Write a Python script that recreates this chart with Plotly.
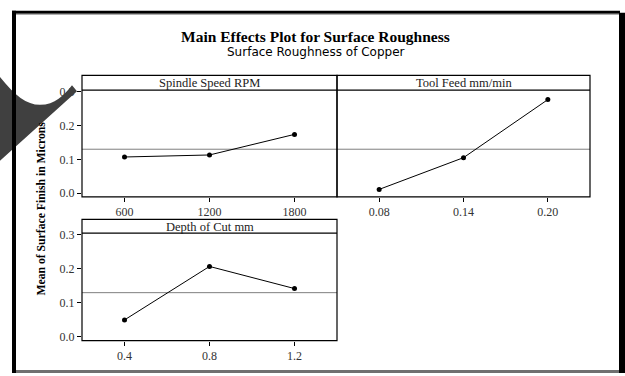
import plotly.graph_objects as go

W, H = 625, 376

# ---------------- data ----------------
speed_levels = ["600", "1200", "1800"]
speed_means = [0.107, 0.113, 0.174]

feed_levels = ["0.08", "0.14", "0.20"]
feed_means = [0.011, 0.105, 0.277]

depth_levels = ["0.4", "0.8", "1.2"]
depth_means = [0.050, 0.207, 0.142]

grand_mean = 0.130

panel_titles = ["Spindle Speed RPM", "Tool Feed mm/min", "Depth of Cut mm"]
y_tick_vals = [0.0, 0.1, 0.2, 0.3]
y_tick_text = ["0.0", "0.1", "0.2", "0.3"]

title_text = "Main Effects Plot for Surface Roughness"
subtitle_text = "Surface Roughness of Copper"
y_title_text = "Mean of Surface Finish in Microns"


# ---------------- helpers (pixel -> paper) ----------------
def px(x):
    return x / W


def py(y):
    return 1 - y / H


SERIF = "Liberation Serif, Times New Roman, serif"
SANS = "DejaVu Sans, Verdana, sans-serif"

fig = go.Figure()

for i, (lv, mv) in enumerate([(speed_levels, speed_means),
                              (feed_levels, feed_means),
                              (depth_levels, depth_means)]):
    sfx = "" if i == 0 else str(i + 1)
    fig.add_trace(go.Scatter(
        x=lv, y=mv, mode="lines+markers",
        xaxis="x" + sfx, yaxis="y" + sfx,
        line=dict(color="black", width=1),
        marker=dict(color="black", size=5),
        showlegend=False, hoverinfo="x+y"))

# panel geometry in pixels
top_data = (87, 196)
bot_data = (233, 343)
left_x = (82, 337)
right_x = (337, 590)
yr = [-0.011, 0.305]

tickfont = dict(family=SERIF, size=12, color="#333333")
common_x = dict(type="category", range=[-0.5, 2.5], ticks="outside", ticklen=4,
                tickcolor="black", showgrid=False, zeroline=False, showline=False,
                tickfont=tickfont, fixedrange=True)
common_y = dict(range=yr, showgrid=False, zeroline=False, showline=False,
                tickvals=y_tick_vals, ticktext=y_tick_text, fixedrange=True)

fig.update_layout(
    width=W, height=H,
    margin=dict(l=0, r=0, t=0, b=0),
    paper_bgcolor="white", plot_bgcolor="white",
    xaxis=dict(domain=[px(left_x[0]), px(left_x[1])], anchor="y", **common_x),
    yaxis=dict(domain=[py(top_data[1]), py(top_data[0])], anchor="x",
               ticks="outside", ticklen=4, tickcolor="black", tickfont=tickfont, **common_y),
    xaxis2=dict(domain=[px(right_x[0]), px(right_x[1])], anchor="y2", **common_x),
    yaxis2=dict(domain=[py(top_data[1]), py(top_data[0])], anchor="x2",
                ticks="", showticklabels=False, **common_y),
    xaxis3=dict(domain=[px(left_x[0]), px(left_x[1])], anchor="y3", **common_x),
    yaxis3=dict(domain=[py(bot_data[1]), py(bot_data[0])], anchor="x3",
                ticks="outside", ticklen=4, tickcolor="black", tickfont=tickfont, **common_y),
)

shapes = []
# grand mean reference lines
for sfx in ["", "2", "3"]:
    shapes.append(dict(type="line", xref="x" + sfx + " domain", yref="y" + sfx,
                       x0=0, x1=1, y0=grand_mean, y1=grand_mean,
                       line=dict(color="#7f7f7f", width=1), layer="below"))

# panel frames and strip headers
panels = [(left_x, 72, 87, 196), (right_x, 72, 87, 196), (left_x, 219, 233, 343)]
for (xs, ytop, yhead, ybot), title in zip(panels, panel_titles):
    shapes.append(dict(type="rect", xref="paper", yref="paper",
                       x0=px(xs[0]), x1=px(xs[1]), y0=py(ybot), y1=py(ytop),
                       line=dict(color="black", width=1.2), fillcolor="rgba(0,0,0,0)"))
    shapes.append(dict(type="line", xref="paper", yref="paper",
                       x0=px(xs[0]), x1=px(xs[1]), y0=py(yhead), y1=py(yhead),
                       line=dict(color="black", width=1.2)))
    fig.add_annotation(x=px((xs[0] + xs[1]) / 2), y=py((ytop + yhead) / 2 + 0.5),
                       xref="paper", yref="paper", text=title, showarrow=False,
                       font=dict(family=SERIF, size=12.5, color="#222222"),
                       xanchor="center", yanchor="middle")

# decorative dark swoosh in the reference image
pts = "M {a},{b} C {c},{d} {e},{f} {g},{h} C {i},{j} {k},{l} {m},{n} L {o},{p} L {q},{r} Z"
sw = pts.format(
    a=px(-2), b=py(71), c=px(14), d=py(92), e=px(26), f=py(102), g=px(40), h=py(102),
    i=px(55), j=py(102), k=px(64), l=py(92), m=px(72), n=py(82),
    o=px(77), p=py(88), q=px(-2), r=py(161))
shapes.append(dict(type="path", xref="paper", yref="paper", path=sw,
                   fillcolor="#404040", line=dict(width=0), layer="above"))

# outer frame of the picture
shapes.append(dict(type="rect", xref="paper", yref="paper",
                   x0=px(12), x1=px(620), y0=py(9), y1=py(6),
                   fillcolor="black", line=dict(width=0), layer="above"))
shapes.append(dict(type="line", xref="paper", yref="paper",
                   x0=px(16), x1=px(619), y0=py(9.5), y1=py(9.5),
                   line=dict(color="#9a9a9a", width=1), layer="above"))
shapes.append(dict(type="rect", xref="paper", yref="paper",
                   x0=px(12), x1=px(16), y0=py(376), y1=py(6),
                   fillcolor="black", line=dict(width=0), layer="above"))
shapes.append(dict(type="rect", xref="paper", yref="paper",
                   x0=px(619), x1=px(626), y0=py(376), y1=py(8),
                   fillcolor="black", line=dict(width=0), layer="above"))
shapes.append(dict(type="rect", xref="paper", yref="paper",
                   x0=px(16), x1=px(619), y0=py(376), y1=py(373),
                   fillcolor="#707070", line=dict(width=0), layer="above"))

fig.update_layout(shapes=shapes)

# titles
fig.add_annotation(x=px(315.5), y=py(32), xref="paper", yref="paper",
                   text="<b>" + title_text + "</b>", showarrow=False,
                   font=dict(family=SERIF, size=15.5, color="black"),
                   xanchor="center", yanchor="middle")
fig.add_annotation(x=px(315.5), y=py(48.5), xref="paper", yref="paper",
                   text=subtitle_text, showarrow=False,
                   font=dict(family=SANS, size=12, color="black"),
                   xanchor="center", yanchor="middle")
fig.add_annotation(x=px(42), y=py(208), xref="paper", yref="paper",
                   text="<b>" + y_title_text + "</b>", showarrow=False, textangle=-90,
                   font=dict(family=SERIF, size=11.7, color="black"),
                   xanchor="center", yanchor="middle")

fig.write_html("out.html", config={"displayModeBar": False},
               post_script="document.body.style.margin='0';document.body.style.overflow='hidden';")
